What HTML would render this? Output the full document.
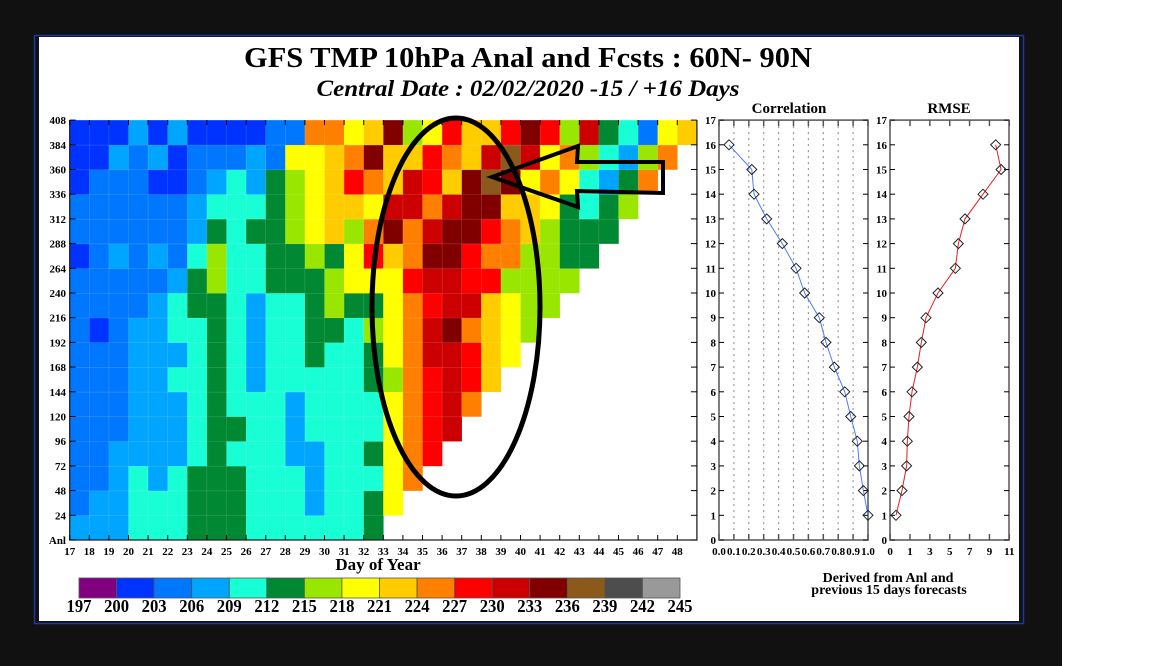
<!DOCTYPE html>
<html><head><meta charset="utf-8"><style>
html,body{margin:0;padding:0;background:#111;}
body{width:1152px;height:666px;position:relative;overflow:hidden;font-family:"Liberation Serif",serif;}
#rightwhite{position:absolute;left:1062px;top:0;width:90px;height:666px;background:#fff;}
svg{position:absolute;left:0;top:0;}
text{font-family:"Liberation Serif",serif;font-weight:bold;fill:#000;}
</style></head><body>
<div id="rightwhite"></div>
<svg id="chart" width="1152" height="666">
<rect x="34.5" y="35.5" width="989" height="588" fill="#111" stroke="#1a3aa0" stroke-width="1.5"/>
<rect x="39" y="37" width="980" height="584" fill="#fff"/>
<text x="528" y="67" font-size="29" text-anchor="middle" textLength="568" lengthAdjust="spacingAndGlyphs">GFS TMP 10hPa Anal and Fcsts :  60N- 90N</text>
<text x="528" y="96" font-size="23" font-style="italic" text-anchor="middle" textLength="423" lengthAdjust="spacingAndGlyphs">Central Date : 02/02/2020 -15 / +16 Days</text>
<g id="heat"></g>
<g id="corr"></g>
<g id="rmse"></g>
<g id="legend"></g>
<text x="378" y="570" font-size="17" text-anchor="middle">Day of Year</text>
<text x="789" y="113" font-size="15" text-anchor="middle">Correlation</text>
<text x="949" y="113" font-size="15" text-anchor="middle">RMSE</text>
<text x="888" y="582" font-size="14" text-anchor="middle">Derived from Anl and</text>
<text x="889" y="594" font-size="14" text-anchor="middle">previous 15 days forecasts</text>
<ellipse cx="456" cy="307" rx="84" ry="189" fill="none" stroke="#000" stroke-width="5"/>
<polygon points="492,177 578,146 577,162 663,162 663,193 577,191 578,207" fill="none" stroke="#000" stroke-width="4"/>
</svg>
<script>
const NS="http://www.w3.org/2000/svg";
const days=[17,18,19,20,21,22,23,24,25,26,27,28,29,30,31,32,33,34,35,36,37,38,39,40,41,42,43,44,45,46,47,48];
const leadLabels=["Anl","24","48","72","96","120","144","168","192","216","240","264","288","312","336","360","384","408"];
const legendLabels=["197","200","203","206","209","212","215","218","221","224","227","230","233","236","239","242","245"];
const palette=["#800080","#0033ff","#0077ff","#00a5ff","#19ffd5","#008833","#99e600","#ffff00","#ffcc00","#ff8000","#ff0000","#cc0000","#800000","#8b5a1b","#4d4d4d","#999999"];
const codeIdx={B:1,b:2,c:3,t:4,g:5,l:6,y:7,o:8,O:9,r:10,R:11,m:12,n:13};
// rows from bottom (Anl) to top (384-408)
const heatRows=[
"ccctttgggttttttg",
"bcctttgggtttcttgy",
"bbctctgggtttctttyO",
"bbcccctgtttccttgyOr",
"bbbccctggttcttttyOrR",
"bbbccctgtttcttttyOrRO",
"bbbccttgtctttttglOrRro",
"bbbccctgtcttgttgyORRroy",
"bBbccttgtcttggtlyORmOoyl",
"bbbbctggtcttglggyOrRRoyll",
"bbbbbcglttggglyyyrRRrrllll",
"BbcbcbtlttgglgyroOmmrOOllgg",
"bbbbbbcgtgglyolOmORmmrOolggg",
"bbbbbbctttglyooyRRORmmooygtgl",
"BbbbBBbctcglyorOoRromnmyOytcgO",
"BBcbcBbbbcbyyoOmoorOoRnRyOltclO",
"BBBcBcBBBBbbOOyomlyroormrlRgtbyo"
];
const corrLead=[1,2,3,4,5,6,7,8,9,10,11,12,13,14,15,16];
const corrVals=[1.0,0.969,0.942,0.928,0.884,0.844,0.774,0.718,0.673,0.575,0.517,0.425,0.32,0.235,0.22,0.067];
const rmseVals=[-0.41,0.19,0.66,0.73,0.9,1.2,1.74,2.14,2.61,3.82,5.57,5.87,6.54,8.35,10.17,9.63];
const corrTicks=["0.0","0.1","0.2","0.3","0.4","0.5","0.6","0.7","0.8","0.9","1.0"];
const rmseTickVals=[-1,1,3,5,7,9,11];
const rmseTickLabels=["0","1","3","5","7","9","11"];
const yTicks=[0,1,2,3,4,5,6,7,8,9,10,11,12,13,14,15,16,17];

function mk(tag,attrs,parent){const e=document.createElementNS(NS,tag);for(const k in attrs)e.setAttribute(k,attrs[k]);parent.appendChild(e);return e;}

const hx0=69.7,cw=19.6,hyB=540,rh=24.7;
const hX=i=>hx0+i*cw, hY=k=>hyB-k*rh;
const heat=document.getElementById('heat');
heatRows.forEach((row,k)=>{
  for(let i=0;i<row.length;i++){
    const c=mk('rect',{x:hX(i),y:hY(k+1),width:cw+0.3,height:rh+0.3,fill:palette[codeIdx[row[i]]],stroke:'rgba(255,255,255,0.18)','stroke-width':0.6},heat);
    
    
  }
});
const hax=mk('path',{d:`M${hX(0)} ${hY(17)} V${hyB} H${hX(32)} V${hY(17)}`,fill:'none',stroke:'#222','stroke-width':1.3},heat);


days.forEach((d,i)=>{
  mk('line',{x1:hX(i),x2:hX(i),y1:hyB,y2:hyB-5,stroke:'#000'},heat);
  mk('line',{x1:hX(i),x2:hX(i),y1:hY(17),y2:hY(17)+5,stroke:'#000'},heat);
  const t=mk('text',{x:hX(i),y:hyB+15,'font-size':11,'text-anchor':'middle'},heat);t.textContent=d;
  
  
});
leadLabels.forEach((l,k)=>{
  mk('line',{x1:hX(0),x2:hX(0)+6,y1:hY(k),y2:hY(k),stroke:'#000'},heat);
  mk('line',{x1:hX(32),x2:hX(32)-6,y1:hY(k),y2:hY(k),stroke:'#000'},heat);
  const t=mk('text',{x:66,y:hY(k)+4,'font-size':11,'text-anchor':'end'},heat);t.textContent=l;
  
  
});

function panel(g,x0,x1,scale,vals,color,ticksV,ticksL,dotted){
  const yT=v=>hyB-v*rh;
  if(dotted){ticksV.forEach(v=>{if(v>0&&v<1)mk('line',{x1:scale(v),x2:scale(v),y1:yT(17),y2:hyB,stroke:'#999','stroke-dasharray':'2,4','stroke-width':1.2},g);});}
  const ax=mk('rect',{x:x0,y:yT(17),width:x1-x0,height:hyB-yT(17),fill:'none',stroke:'#555','stroke-width':1.5},g);
  
  
  yTicks.forEach(v=>{
    mk('line',{x1:x0,x2:x0+5,y1:yT(v),y2:yT(v),stroke:'#000'},g);
    mk('line',{x1:x1,x2:x1-5,y1:yT(v),y2:yT(v),stroke:'#000'},g);
    const t=mk('text',{x:x0-3,y:yT(v)+4,'font-size':11,'text-anchor':'end'},g);t.textContent=v;
    
    
  });
  ticksV.forEach((v,i)=>{
    mk('line',{x1:scale(v),x2:scale(v),y1:hyB,y2:hyB-6,stroke:'#555','stroke-width':1.5},g);
    mk('line',{x1:scale(v),x2:scale(v),y1:yT(17),y2:yT(17)+6,stroke:'#555','stroke-width':1.5},g);
    const t=mk('text',{x:scale(v),y:hyB+15,'font-size':11,'text-anchor':'middle'},g);t.textContent=ticksL[i];
    
    
  });
  const pts=vals.map((v,i)=>[scale(v),yT(corrLead[i])]);
  const ln=mk('polyline',{points:pts.map(p=>p.join(',')).join(' '),fill:'none',stroke:color,'stroke-width':1},g);
  
  
  pts.forEach(p=>{
    const d=mk('path',{d:`M${p[0]} ${p[1]-5} L${p[0]+5} ${p[1]} L${p[0]} ${p[1]+5} L${p[0]-5} ${p[1]} Z`,fill:'none',stroke:'#222','stroke-width':1},g);
    
    
  });
}
const cS=v=>719+v*149;
panel(document.getElementById('corr'),719,868,cS,corrVals,'#4a7cff',corrTicks.map(Number),corrTicks,true);
const rS=v=>910+(v-1)*9.93;
panel(document.getElementById('rmse'),890,1009,rS,rmseVals,'#e02020',rmseTickVals,rmseTickLabels,false);

const lg=document.getElementById('legend');
const lx0=79,lw=(680-79)/16;
palette.forEach((c,i)=>{
  const r=mk('rect',{x:lx0+i*lw,y:578,width:lw,height:20,fill:c,stroke:'#555','stroke-width':0.8},lg);
  
  
});
legendLabels.forEach((l,i)=>{
  const t=mk('text',{x:lx0+i*lw,y:612,'font-size':18,'text-anchor':'middle',textLength:25,lengthAdjust:'spacingAndGlyphs'},lg);t.textContent=l;
  
  
});
</script>
</body></html>
